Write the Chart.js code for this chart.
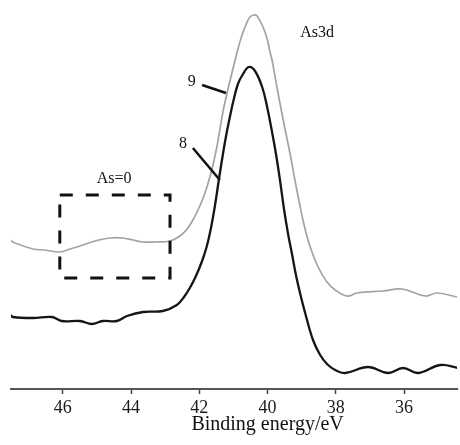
<!DOCTYPE html>
<html>
<head>
<meta charset="utf-8">
<script src="https://cdn.jsdelivr.net/npm/chart.js@4.4.0/dist/chart.umd.min.js"></script>
<style>
    html, body { margin: 0; padding: 0; background: #fff; }
    #wrap { width: 460px; height: 445px; position: relative; }
</style>
</head>
<body>
<div id="wrap"><canvas id="xpsChart"></canvas></div>
<script>
// Curve 8 (black): binding energy (eV) and intensity (a.u.)
const energy8 = [47.52, 47.47, 46.88, 46.32, 46.03, 45.50, 45.15, 44.83, 44.42, 44.12, 43.65, 43.07, 42.66, 42.45, 42.28, 42.10, 41.92, 41.78, 41.66, 41.54, 41.43, 41.29, 41.19, 41.10, 41.01, 40.87, 40.72, 40.55, 40.37, 40.16, 40.02, 39.87, 39.75, 39.63, 39.52, 39.40, 39.28, 39.17, 39.05, 38.90, 38.67, 38.46, 38.26, 38.02, 37.73, 37.06, 36.47, 36.03, 35.59, 34.94, 34.41];
const counts8 = [74, 72, 71, 72, 68, 68, 65, 68, 68, 73, 77, 78, 84, 92, 101, 113, 128, 143, 161, 184, 209, 239, 258, 273, 287, 305, 315, 322, 318, 302, 283, 257, 234, 207, 180, 155, 134, 114, 96, 76, 49, 34, 25, 19, 16, 22, 16, 21, 16, 24, 21];

// Curve 9 (gray)
const energy9 = [47.52, 47.47, 46.88, 46.53, 46.09, 45.79, 45.41, 45.06, 44.62, 44.24, 43.95, 43.65, 43.30, 42.86, 42.57, 42.36, 42.19, 42.04, 41.89, 41.75, 41.60, 41.45, 41.31, 41.16, 41.01, 40.87, 40.75, 40.60, 40.52, 40.40, 40.31, 40.16, 40.02, 39.93, 39.87, 39.70, 39.52, 39.34, 39.20, 39.05, 38.91, 38.76, 38.52, 38.26, 38.02, 37.67, 37.38, 36.62, 36.06, 35.38, 35.03, 34.45];
const counts9 = [149, 147, 140, 139, 137, 140, 144, 148, 151, 151, 149, 147, 147, 148, 153, 160, 169, 179, 191, 205, 224, 249, 277, 300, 321, 340, 354, 367, 372, 374, 373, 364, 351, 337, 329, 297, 265, 235, 209, 183, 161, 143, 122, 107, 99, 93, 96, 98, 100, 93, 96, 92];

// Axis
const tickValues = [36, 38, 40, 42, 44, 46];
const energyRange = [34.45, 47.52];
const intensityRange = [0, 389];
const axisTitle = 'Binding energy/eV';

// Annotations (in data coordinates)
const boxEnergy = [46.09, 42.86];
const boxCounts = [111, 194];
const noteTexts = ['As=0', 'As3d', '9', '8'];
const noteEnergy = [44.50, 38.55, 42.22, 42.48];
const noteCounts = [210, 356, 307, 245];
const leaderFrom = [[41.92, 304], [42.19, 241]];
const leaderTo = [[41.22, 296], [41.40, 209]];

const serif = "'Liberation Serif', 'DejaVu Serif', serif";

function toPoints(xs, ys) {
    return xs.map((v, i) => ({ x: v, y: ys[i] }));
}

// Draws the dashed box, labels, leader lines and the axis title
const notesPlugin = {
    id: 'xpsNotes',
    afterDatasetsDraw(chart) {
        const { ctx, chartArea } = chart;
        const x = chart.scales.x;
        const y = chart.scales.y;
        ctx.save();

        // dashed "As=0" box
        const x0 = x.getPixelForValue(boxEnergy[0]);
        const x1 = x.getPixelForValue(boxEnergy[1]);
        const y0 = y.getPixelForValue(boxCounts[1]);
        const y1 = y.getPixelForValue(boxCounts[0]);
        ctx.strokeStyle = '#111';
        ctx.lineWidth = 3;
        ctx.setLineDash([13, 13]);
        ctx.strokeRect(x0, y0, x1 - x0, y1 - y0);
        ctx.setLineDash([]);

        // leader lines for curve labels
        ctx.lineWidth = 2.5;
        leaderFrom.forEach((p, i) => {
            ctx.beginPath();
            ctx.moveTo(x.getPixelForValue(p[0]), y.getPixelForValue(p[1]));
            ctx.lineTo(x.getPixelForValue(leaderTo[i][0]), y.getPixelForValue(leaderTo[i][1]));
            ctx.stroke();
        });

        // text labels
        ctx.fillStyle = '#111';
        ctx.textAlign = 'center';
        ctx.textBaseline = 'middle';
        ctx.font = '16px ' + serif;
        noteTexts.forEach((t, i) => {
            ctx.fillText(t, x.getPixelForValue(noteEnergy[i]), y.getPixelForValue(noteCounts[i]));
        });

        // axis title, centred under the 40 eV tick
        ctx.font = '20px ' + serif;
        ctx.fillText(axisTitle, x.getPixelForValue(40), chartArea.bottom + 36);

        ctx.restore();
    }
};

new Chart(document.getElementById('xpsChart').getContext('2d'), {
    type: 'line',
    data: {
        datasets: [
            {
                label: '9',
                data: toPoints(energy9, counts9),
                borderColor: '#a3a3a3',
                borderWidth: 1.7,
            },
            {
                label: '8',
                data: toPoints(energy8, counts8),
                borderColor: '#151515',
                borderWidth: 2.3,
            },
        ],
    },
    options: {
        responsive: true,
        maintainAspectRatio: false,
        animation: false,
        layout: { padding: { left: 11, right: 3, top: 0, bottom: 0 } },
        elements: {
            point: { radius: 0 },
            line: { tension: 0.4, fill: false },
        },
        plugins: {
            legend: { display: false },
            tooltip: { enabled: false },
        },
        scales: {
            x: {
                type: 'linear',
                reverse: true,
                min: energyRange[0],
                max: energyRange[1],
                afterBuildTicks: (scale) => {
                    scale.ticks = tickValues.map(v => ({ value: v }));
                },
                afterFit: (scale) => { scale.height = 56; },
                grid: {
                    drawOnChartArea: false,
                    drawTicks: true,
                    tickLength: 5,
                    tickWidth: 1.5,
                    color: '#444',
                },
                border: { display: true, color: '#555', width: 2 },
                ticks: {
                    color: '#1a1a1a',
                    padding: 3,
                    maxRotation: 0,
                    font: { family: serif, size: 18 },
                },
            },
            y: {
                display: false,
                min: intensityRange[0],
                max: intensityRange[1],
            },
        },
    },
    plugins: [notesPlugin],
});
</script>
</body>
</html>
